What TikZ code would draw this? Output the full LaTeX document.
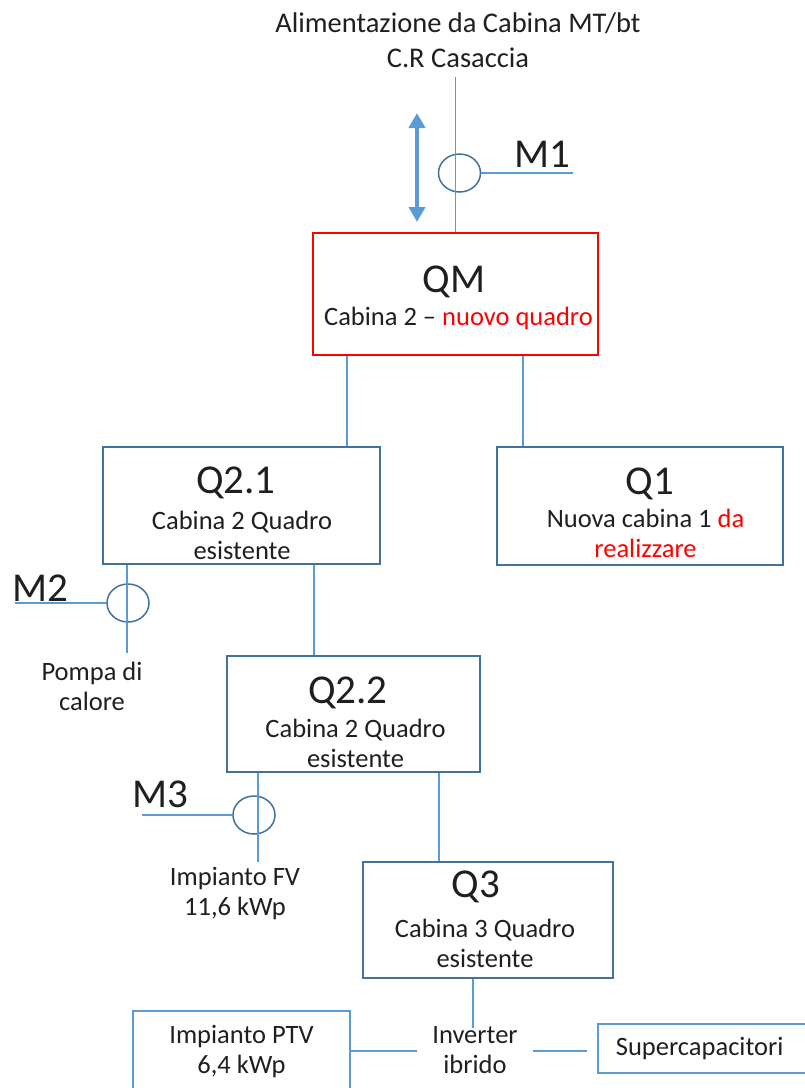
\documentclass[tikz,border=0pt]{standalone}
\usepackage{fontspec}
\setmainfont{Carlito}
\usetikzlibrary{arrows.meta,shapes.geometric}
\definecolor{wire}{HTML}{5B9BD5}
\definecolor{frame}{HTML}{41719C}
\definecolor{alert}{HTML}{FF0000}
\definecolor{ink}{HTML}{1F1F1F}
\begin{document}
\begin{tikzpicture}[x=1pt,y=-1pt,
  wireline/.style={draw=wire,line width=1.5pt},
  qbox/.style={draw=frame,line width=1.8pt,inner sep=0pt},
  redbox/.style={draw=alert,line width=1.8pt,inner sep=0pt},
  lightbox/.style={draw=wire,line width=1.8pt,inner sep=0pt},
  meter/.style={draw=frame,line width=1.5pt,ellipse,minimum width=42pt,minimum height=38pt,inner sep=0pt},
  title/.style={font=\fontsize{41}{49}\selectfont,text=ink,anchor=base,inner sep=0pt},
  mlabel/.style={font=\fontsize{41}{49}\selectfont,text=ink,anchor=base,inner sep=0pt},
  small/.style={font=\fontsize{26.5}{30}\selectfont,text=ink,align=center,anchor=base,inner sep=0pt},
  toptext/.style={font=\fontsize{28.5}{35}\selectfont,text=ink,align=center,anchor=base,inner sep=0pt},
  bidir/.style={draw=wire,line width=4.5pt,{Triangle[width=16pt,length=15pt]}-{Triangle[width=16pt,length=15pt]}}
]
\path[use as bounding box,clip] (0,0) rectangle (805,1088);

% supply from the MV/LV substation (multi-line nodes sit on their last baseline)
\node[toptext] (feedlbl) at (458,67) {Alimentazione da Cabina MT/bt\\C.R Casaccia};
\coordinate (feed) at (455.5,77);
\coordinate (arrTop) at (417,113);
\coordinate (arrBot) at (417,222);

% switchboards
\node[redbox,minimum width=285pt,minimum height=122pt] (qm) at (455.5,294) {};
\node[qbox,minimum width=277pt,minimum height=117pt] (q21) at (241.5,505.5) {};
\node[qbox,minimum width=286pt,minimum height=118pt] (q1) at (640,506) {};
\node[qbox,minimum width=253pt,minimum height=116pt] (q22) at (353.5,714) {};
\node[qbox,minimum width=250pt,minimum height=116pt] (q3) at (488,920) {};
\node[lightbox,minimum width=217pt,minimum height=80pt] (ptv) at (241.5,1051) {};
\node[lightbox,anchor=west,minimum height=49pt,inner xsep=18pt,font=\fontsize{26.5}{30}\selectfont,text=ink] (sc) at (597,1048.5) {Supercapacitori\hspace*{50pt}};

% switchboard labels
\node[title] (qmt) at (454,292) {QM};
\node[small] (qms) at (458.5,325) {Cabina 2 -- \textcolor{alert}{nuovo quadro}};
\node[title] (q21t) at (236,493) {Q2.1};
\node[small] (q21s) at (242,559) {Cabina 2 Quadro\\esistente};
\node[title] (q1t) at (650,494) {Q1};
\node[small] (q1s) at (645.5,557) {Nuova cabina 1 \textcolor{alert}{da}\\\textcolor{alert}{realizzare}};
\node[title] (q22t) at (348,703) {Q2.2};
\node[small] (q22s) at (355.5,767) {Cabina 2 Quadro\\esistente};
\node[title] (q3t) at (476,897) {Q3};
\node[small] (q3s) at (485,967) {Cabina 3 Quadro\\esistente};

% loads and sources
\node[small] (pompa) at (92,710) {Pompa di\\calore};
\node[small] (fv) at (235,915) {Impianto FV\\11,6 kWp};
\node[small] (ptvt) at (241.5,1073) {Impianto PTV\\6,4 kWp};
\node[small,inner xsep=15pt] (inv) at (475,1073) {Inverter\\ibrido};

% meters
\node[meter] (m1c) at (459.5,173) {};
\node[meter] (m2c) at (128,603) {};
\node[meter] (m3c) at (254,815) {};
\node[mlabel] (m1t) at (542,167) {M1};
\node[mlabel] (m2t) at (40,601) {M2};
\node[mlabel] (m3t) at (160,807) {M3};
\coordinate (m1end) at (573,173);
\coordinate (m2end) at (15,603);
\coordinate (m3end) at (142,815);
\coordinate (pompatop) at (127,653);
\coordinate (fvtop) at (258,862);
\coordinate (invtop) at (473,1028);

% feeders
\draw[wireline] (feed) -- (qm.north);
\draw[bidir] (arrTop) -- (arrBot);
\draw[wireline] (m1c.east) -- (m1end);
\draw[wireline] ([xshift=-108.5pt]qm.south) -- ([xshift=-108.5pt]qm.south |- q21.north);
\draw[wireline] ([xshift=67.5pt]qm.south) -- ([xshift=67.5pt]qm.south |- q1.north);
\draw[wireline] ([xshift=72.5pt]q21.south) -- ([xshift=72.5pt]q21.south |- q22.north);
\draw[wireline] (q21.south -| pompatop) -- (pompatop);
\draw[wireline] (m2c.west) -- (m2end);
\draw[wireline] ([xshift=85.5pt]q22.south) -- ([xshift=85.5pt]q22.south |- q3.north);
\draw[wireline] (q22.south -| fvtop) -- (fvtop);
\draw[wireline] (m3c.west) -- (m3end);
\draw[wireline] (q3.south -| invtop) -- (invtop);
\draw[wireline] (ptv.east) -- (inv.west |- ptv.east);
\draw[wireline,shorten >=10pt] (inv.east |- ptv.east) -- (sc.west |- ptv.east);
\end{tikzpicture}
\end{document}
